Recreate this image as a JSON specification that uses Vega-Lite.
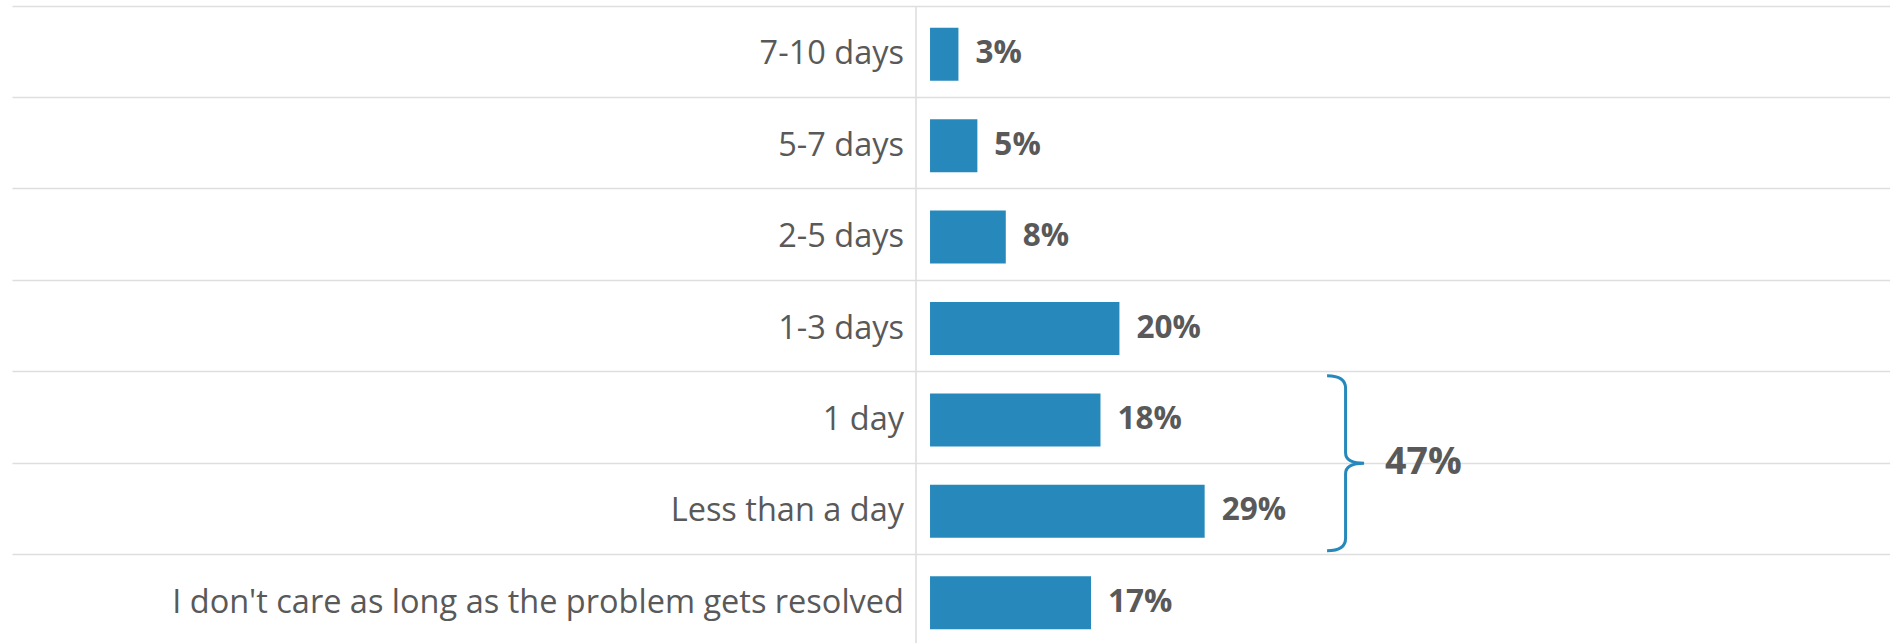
{
  "$schema": "https://vega.github.io/schema/vega-lite/v6.json",
  "width": 1878,
  "height": 640,
  "autosize": "none",
  "padding": {"top": 6, "left": 12, "right": 0, "bottom": 0},
  "background": "white",
  "config": {"view": {"stroke": null}, "font": "Open Sans"},
  "datasets": {
    "responses": [
      {"cat": "7-10 days", "share": 0.03},
      {"cat": "5-7 days", "share": 0.05},
      {"cat": "2-5 days", "share": 0.08},
      {"cat": "1-3 days", "share": 0.20},
      {"cat": "1 day", "share": 0.18},
      {"cat": "Less than a day", "share": 0.29},
      {"cat": "I don't care as long as the problem gets resolved", "share": 0.17}
    ],
    "groups": [
      {"cat": "Less than a day", "first": "1 day", "last": "Less than a day", "total": 0.47}
    ]
  },
  "data": {"name": "responses"},
  "layer": [
    {
      "mark": {"type": "bar", "height": {"band": 0.58}, "color": "#2789bb", "yOffset": 2.5},
      "encoding": {
        "y": {"field": "cat", "type": "nominal", "sort": null,
              "scale": {"type": "band", "paddingInner": 0, "paddingOuter": 0},
              "axis": {"grid": true, "bandPosition": 0, "labels": false, "ticks": false, "domain": false,
                       "gridColor": "#dedede", "gridWidth": 1.6, "title": null}},
        "x": {"field": "share", "type": "quantitative", "axis": null,
              "scale": {"domain": [-0.9694, 1.0137], "nice": false, "zero": false}}
      }
    },
    {
      "mark": {"type": "text", "align": "left", "baseline": "middle", "dx": 17, "dy": 2.5, "fontSize": 31.5, "fontWeight": "bold", "color": "#595959"},
      "encoding": {
        "y": {"field": "cat", "type": "nominal", "sort": null},
        "x": {"field": "share", "type": "quantitative"},
        "text": {"field": "share", "type": "quantitative", "format": ".0%"}
      }
    },
    {
      "mark": {"type": "text", "align": "right", "baseline": "middle", "dy": 2.5, "fontSize": 32.5, "color": "#595959"},
      "encoding": {
        "y": {"field": "cat", "type": "nominal", "sort": null},
        "x": {"datum": -0.0275},
        "text": {"field": "cat", "type": "nominal"}
      }
    },
    {
      "data": {"name": "groups"},
      "mark": {"type": "rule", "color": "#dedede", "strokeWidth": 1.6},
      "encoding": {
        "x": {"datum": -0.0148}
      }
    },
    {
      "data": {"name": "groups"},
      "mark": {"type": "point", "shape": "M -0.2114 -1 Q 0 -1 0 -0.857 L 0 -0.12 Q 0 0 0.2114 0 Q 0 0 0 0.12 L 0 0.857 Q 0 1 -0.2114 1", "size": 30625, "filled": false, "color": "#2789bb", "strokeWidth": 3, "opacity": 1},
      "encoding": {
        "y": {"field": "cat", "type": "nominal", "sort": null, "bandPosition": 0},
        "x": {"datum": 0.4388}
      }
    },
    {
      "data": {"name": "groups"},
      "mark": {"type": "text", "align": "left", "baseline": "middle", "fontSize": 37.5, "fontWeight": "bold", "color": "#595959"},
      "encoding": {
        "y": {"field": "cat", "type": "nominal", "sort": null, "bandPosition": 0},
        "x": {"datum": 0.4805},
        "text": {"field": "total", "type": "quantitative", "format": ".0%"}
      }
    }
  ]
}
